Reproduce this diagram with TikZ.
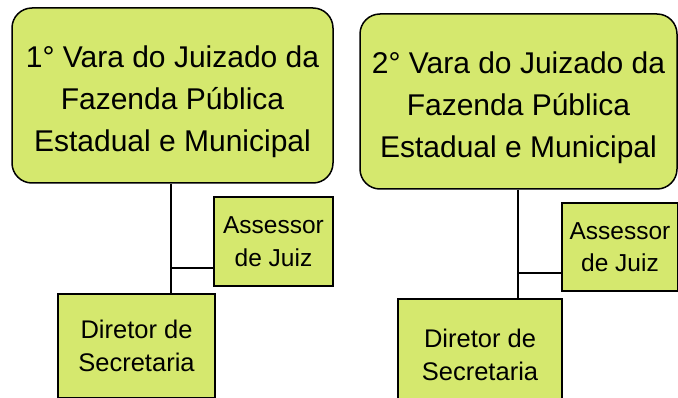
\documentclass[tikz,border=0pt]{standalone}
\usepackage{fontspec}
\setmainfont{Liberation Sans}
\definecolor{varagreen}{RGB}{213,232,110}
\newcommand{\toplift}{\rule{0pt}{34pt}}
\tikzset{
    vara/.style={draw, rectangle, rounded corners=20pt, fill=varagreen, line width=1.5pt, align=center, inner sep=0pt, font=\fontsize{30}{42}\selectfont},
    cargo/.style={draw, rectangle, fill=varagreen, line width=1.5pt, align=center, inner sep=0pt, font=\fontsize{24.5}{32.5}\selectfont},
    link/.style={line width=1.5pt}
}

\begin{document}
\begin{tikzpicture}[x=1pt, y=-1pt]
\useasboundingbox (0,0) rectangle (678,398);
% first court
\node[vara, minimum width=321pt, minimum height=175pt] (vara1) at (172.5,95.5) {\toplift 1° Vara do Juizado da\\Fazenda Pública\\Estadual e Municipal};
\node[cargo, minimum width=119pt, minimum height=89pt] (assessor1) at (273.5,241.5) {Assessor\\de Juiz};
\node[cargo, minimum width=157pt, minimum height=104pt, font=\fontsize{25.5}{33}\selectfont] (diretor1) at (136.5,346) {Diretor de\\Secretaria};
\coordinate (j1) at (171,268);
\draw[link] (vara1.south -| j1) -- (diretor1.north -| j1);
\draw[link] (j1) -- (assessor1.west |- j1);
% second court
\node[vara, minimum width=317pt, minimum height=175pt] (vara2) at (518.5,101.5) {\toplift 2° Vara do Juizado da\\Fazenda Pública\\Estadual e Municipal};
\node[cargo, minimum width=116pt, minimum height=88pt] (assessor2) at (620,247) {Assessor\\de Juiz};
\node[cargo, minimum width=164pt, minimum height=112pt, font=\fontsize{25.5}{33}\selectfont] (diretor2) at (480,355) {Diretor de\\Secretaria};
\coordinate (j2) at (518,273);
\draw[link] (vara2.south -| j2) -- (diretor2.north -| j2);
\draw[link] (j2) -- (assessor2.west |- j2);
\end{tikzpicture}
\end{document}
